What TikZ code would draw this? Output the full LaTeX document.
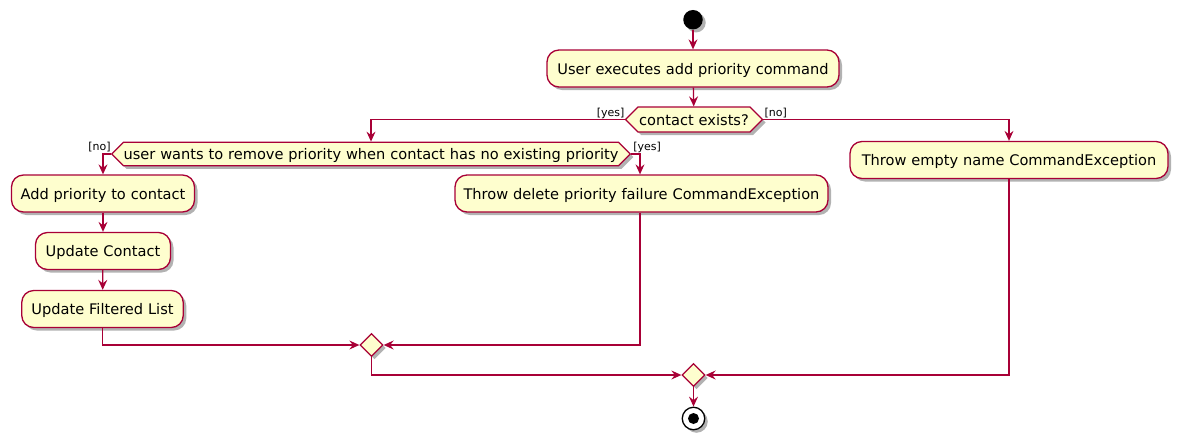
\documentclass[tikz,border=0pt]{standalone}
\usepackage{fontspec}
\setmainfont{DejaVu Sans}
\usetikzlibrary{arrows.meta,shapes.geometric,shapes.symbols,shadows}
\definecolor{umlred}{HTML}{A80036}
\definecolor{umlfill}{HTML}{FEFECE}
\tikzset{
  shade/.style={drop shadow={shadow xshift=3pt,shadow yshift=-3pt,opacity=0.3,fill=black}},
  action/.style={draw=umlred,fill=umlfill,line width=1.3pt,rounded corners=12pt,shade,
    minimum height=37pt,inner xsep=0pt,inner ysep=0pt,text height=11pt,text depth=0pt,
    align=center,font=\fontsize{14.6}{16}\selectfont},
  decision/.style={signal,signal to=west and east,signal pointer angle=90,draw=umlred,fill=umlfill,
    line width=1.3pt,shade,inner xsep=0pt,inner ysep=0pt,text height=11pt,text depth=0pt,
    align=center,font=\fontsize{14.6}{16}\selectfont},
  merge/.style={diamond,draw=umlred,fill=umlfill,line width=1.3pt,shade,minimum width=23pt,minimum height=23pt,inner sep=0pt},
  flow/.style={draw=umlred,line width=1.3pt,-{Stealth[length=10pt,width=9pt,inset=3.5pt]}},
  guard/.style={font=\fontsize{11}{12}\selectfont,inner sep=0pt},
}
\begin{document}
\begin{tikzpicture}[x=1pt,y=-1pt]
\useasboundingbox (0,0) rectangle (1184,445);
\node[circle,fill=black,minimum size=19.5pt,inner sep=0pt,shade] (start) at (693,19.7) {};
\node[action,text width=292pt] (execute) at (693,68.5) {User executes add priority command};
\node[decision,text width=112pt,minimum height=25pt] (exists) at (694,119.5) {contact exists?};
\node[action,text width=318pt] (noname) at (1009,160) {Throw empty name CommandException};
\node[decision,text width=495pt,minimum height=23.5pt] (remove) at (371,154) {user wants to remove priority when contact has no existing priority};
\node[action,text width=183pt] (addprio) at (103,193.5) {Add priority to contact};
\node[action,text width=373pt] (delfail) at (641.5,193.5) {Throw delete priority failure CommandException};
\node[action,text width=135pt] (updcontact) at (103,251) {Update Contact};
\node[action,text width=161.5pt] (updlist) at (102.5,309) {Update Filtered List};
\node[merge] (mergea) at (371.5,345) {};
\node[merge] (mergeb) at (693.5,375) {};
\node[circle,draw=black,line width=1.3pt,fill=white,minimum size=22.5pt,inner sep=0pt,shade] (stop) at (693.5,418.5) {};
\node[circle,fill=black,minimum size=11pt,inner sep=0pt] (stopdot) at (stop) {};
\node[guard,anchor=base east] (existsyes) at ([yshift=3.5pt]exists.west) {[yes]};
\node[guard,anchor=base west] (existsno) at ([yshift=3.5pt,xshift=1pt]exists.east) {[no]};
\node[guard,anchor=base east] (removeno) at ([yshift=4pt]remove.west) {[no]};
\node[guard,anchor=base west] (removeyes) at ([yshift=4pt,xshift=2pt]remove.east) {[yes]};
\draw[flow] (start) -- (execute);
\draw[flow] (execute) -- (exists);
\draw[flow] (exists.west) -| (remove.north);
\draw[flow] (exists.east) -| (noname.north);
\draw[flow] (remove.west) -| (addprio.north);
\draw[flow] (remove.east) -| ([xshift=-1.5pt]delfail.north);
\draw[flow] (addprio) -- (updcontact);
\draw[flow] (updcontact) -- (updlist);
\draw[flow] (updlist.south) |- (mergea.west);
\draw[flow] ([xshift=-1.5pt]delfail.south) |- (mergea.east);
\draw[flow] (mergea.south) |- (mergeb.west);
\draw[flow] (noname.south) |- (mergeb.east);
\draw[flow] (mergeb) -- (stop);
\end{tikzpicture}
\end{document}
